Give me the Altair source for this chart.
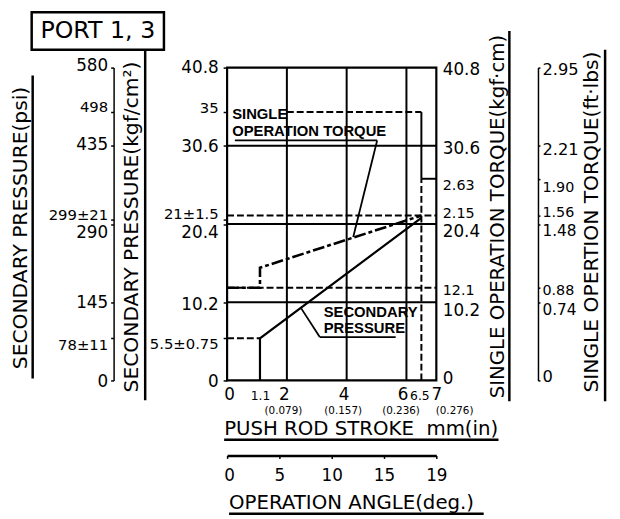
import json
import altair as alt
import pandas as pd

# ---------------- data ----------------
# secondary pressure scale positions (kgf/cm2) and labels
press_ticks = [40.8, 35, 30.6, 21, 20.4, 10.2, 5.5, 0]
press_kgf_labels = ["40.8", "35", "30.6", "21±1.5", "20.4", "10.2", "5.5±0.75", "0"]
press_psi_labels = ["580", "498", "435", "299±21", "290", "145", "78±11", "0"]
# single operation torque scale positions (kgf-cm) and labels
torque_ticks = [40.8, 30.6, 26.3, 21.5, 20.4, 12.1, 10.2, 0]
torque_kgf_labels = ["40.8", "30.6", "2.63", "2.15", "20.4", "12.1", "10.2", "0"]
torque_ftlb_labels = ["2.95", "2.21", "1.90", "1.56", "1.48", "0.88", "0.74", "0"]
# push rod stroke (mm) and inch equivalents
stroke_ticks = [0, 1.1, 2, 4, 6, 6.5, 7]
stroke_in_ticks = [2, 4, 6, 7]
stroke_in_labels = ["(0.079)", "(0.157)", "(0.236)", "(0.276)"]
# operation angle (deg) and the stroke (mm) under each angle tick
angle_labels = ["0", "5", "10", "15", "19"]
angle_at_mm = [0, 1.75, 3.5, 5.25, 7.0]

# series
pressure_x = [1.1, 1.1, 6.5]
pressure_y = [0, 5.5, 21.2]
torque_x = [0, 1.1, 1.1, 6.5]
torque_y = [12.1, 12.1, 14.7, 21.5]

# grid
grid_x = [2, 4, 6]
grid_y = [10.2, 20.4, 30.6]

# dashed reference segments
dash_x1 = [0, 0, 0, 2, 6.5]
dash_x2 = [1.1, 7, 7, 6.5, 6.5]
dash_y1 = [5.5, 12.1, 21.5, 35, 0]
dash_y2 = [5.5, 12.1, 21.5, 35, 26.3]
# solid reference segments
solid_x1 = [6.5, 6.5]
solid_x2 = [6.5, 7]
solid_y1 = [26.3, 26.3]
solid_y2 = [35, 26.3]

# annotations
note_text = ["SINGLE", "OPERATION TORQUE", "SECONDARY", "PRESSURE"]
note_x = [0.17, 0.17, 3.23, 3.23]
note_y = [34.7, 32.5, 8.9, 6.8]
lead_x1 = [0.26, 5.02, 3.1, 3.1]
lead_x2 = [5.02, 4.22, 5.64, 2.48]
lead_y1 = [31.3, 31.3, 5.66, 5.66]
lead_y2 = [31.3, 18.7, 5.66, 9.4]

# ---------------- chart ----------------
W, H = 212, 317
FONT = "DejaVu Sans"
NOTE_FONT = "Liberation Sans Narrow, Liberation Sans"

xs = alt.Scale(domain=[0, 7], nice=False, zero=False)
ys = alt.Scale(domain=[0, 40.8], nice=False, zero=False)


def lab_expr(vals, labels):
    return "%s[indexof(%s, datum.value)]" % (
        json.dumps(labels, ensure_ascii=False), json.dumps(vals))


def cond(mapping, default):
    conds = [{"test": "datum.value == %s" % json.dumps(v), "value": o}
             for v, o in mapping.items()]
    return {"condition": conds, "value": default}


def axis_layer(channel, vals, labels, orient, offset, sizes, offs, default_size=17,
               domain=False, tick=0, pad=4, baseline=None, dwidth=1.5):
    kw = dict(orient=orient, offset=offset, values=vals,
              labelExpr=lab_expr(vals, labels), labelFont=FONT,
              labelFontSize=cond(sizes, default_size) if sizes else default_size,
              labelOffset=cond(offs, 0) if offs else 0,
              labelColor="black", labelOverlap=False, labelFlush=False,
              domain=domain, domainColor="black", domainWidth=dwidth,
              ticks=tick > 0, tickSize=tick, tickColor="black", tickWidth=1.5,
              labelPadding=pad, grid=False, title=None)
    if baseline:
        kw["labelBaseline"] = baseline
    df = pd.DataFrame({"v": vals})
    base = alt.Chart(df).mark_point(opacity=0)
    if channel == "y":
        return base.encode(y=alt.Y("v:Q", scale=ys, axis=alt.Axis(**kw)))
    return base.encode(x=alt.X("v:Q", scale=xs, axis=alt.Axis(**kw)))


one = pd.DataFrame({"k": [0]})


def deco_rule(x, y, x2=None, y2=None, w=2.5):
    enc = dict(x=alt.value(x), y=alt.value(y))
    if x2 is not None:
        enc["x2"] = alt.value(x2)
    if y2 is not None:
        enc["y2"] = alt.value(y2)
    return alt.Chart(one).mark_rule(color="black", strokeWidth=w).encode(**enc)


def title_text(txt, x, y, size, angle=0, align="center", baseline="middle",
               font=FONT, weight="normal"):
    return alt.Chart(pd.DataFrame({"t": [txt]})).mark_text(
        font=font, fontSize=size, angle=angle, align=align, baseline=baseline,
        color="black", fontWeight=weight).encode(
        x=alt.value(x), y=alt.value(y), text="t:N")


X = lambda f: alt.X(f, scale=xs, axis=None)
Y = lambda f: alt.Y(f, scale=ys, axis=None)

layers = []

# grid lines
layers.append(alt.Chart(pd.DataFrame({"g": grid_x})).mark_rule(
    color="black", strokeWidth=2).encode(x=X("g:Q")))
layers.append(alt.Chart(pd.DataFrame({"g": grid_y})).mark_rule(
    color="black", strokeWidth=2).encode(y=Y("g:Q")))

# dashed references
dash_df = pd.DataFrame({"x": dash_x1, "x2": dash_x2, "y": dash_y1, "y2": dash_y2})
layers.append(alt.Chart(dash_df).mark_rule(
    color="black", strokeWidth=2, strokeDash=[7, 3]).encode(
    x=X("x:Q"), x2="x2:Q", y=Y("y:Q"), y2="y2:Q"))
solid_df = pd.DataFrame({"x": solid_x1, "x2": solid_x2, "y": solid_y1, "y2": solid_y2})
layers.append(alt.Chart(solid_df).mark_rule(
    color="black", strokeWidth=2).encode(
    x=X("x:Q"), x2="x2:Q", y=Y("y:Q"), y2="y2:Q"))

# series
p_df = pd.DataFrame({"x": pressure_x, "y": pressure_y, "i": range(len(pressure_x))})
layers.append(alt.Chart(p_df).mark_line(color="black", strokeWidth=2.2).encode(
    x=X("x:Q"), y=Y("y:Q"), order="i:Q"))
t_df = pd.DataFrame({"x": torque_x, "y": torque_y, "i": range(len(torque_x))})
layers.append(alt.Chart(t_df).mark_line(
    color="black", strokeWidth=2.6, strokeDash=[12, 3, 4, 3]).encode(
    x=X("x:Q"), y=Y("y:Q"), order="i:Q"))

# annotations
lead_df = pd.DataFrame({"x": lead_x1, "x2": lead_x2, "y": lead_y1, "y2": lead_y2})
layers.append(alt.Chart(lead_df).mark_rule(color="black", strokeWidth=1.8).encode(
    x=X("x:Q"), x2="x2:Q", y=Y("y:Q"), y2="y2:Q"))
note_df = pd.DataFrame({"t": note_text, "x": note_x, "y": note_y})
layers.append(alt.Chart(note_df).mark_text(
    font=NOTE_FONT, fontSize=15, fontWeight="bold", align="left",
    baseline="middle", color="black").encode(x=X("x:Q"), y=Y("y:Q"), text="t:N"))

# axes
layers.append(axis_layer(
    "y", press_ticks, press_kgf_labels, "left", 0,
    {35: 15, 21: 15, 5.5: 15}, {35: -5, 30.6: 1, 21: -6, 20.4: 9, 10.2: 2, 5.5: 5, 0: 1},
    tick=4, pad=5))
layers.append(axis_layer(
    "y", press_ticks, press_psi_labels, "left", 115,
    {35: 15, 21: 15, 5.5: 15}, {40.8: -2, 35: -6, 30.6: -1, 21: -5, 20.4: 9, 5.5: 6, 0: 1},
    domain=True, tick=3, pad=3))
layers.append(axis_layer(
    "y", torque_ticks, torque_kgf_labels, "right", 0,
    {26.3: 14.5, 21.5: 14.5, 12.1: 14.5},
    {40.8: 2, 30.6: 3, 26.3: 7, 21.5: -2, 20.4: 8, 12.1: 3, 10.2: 8, 0: -2},
    tick=0, pad=6))
layers.append(axis_layer(
    "y", torque_ticks, torque_ftlb_labels, "right", 103,
    {26.3: 14.5, 21.5: 14.5, 12.1: 14.5, 20.4: 15.5, 10.2: 15.5},
    {40.8: 2, 30.6: 4, 26.3: 9, 21.5: -3, 20.4: 7, 12.1: 3, 10.2: 7, 0: -4},
    default_size=16.5, domain=True, tick=2, pad=2))
layers.append(axis_layer(
    "x", stroke_ticks, [str(v) for v in stroke_ticks], "bottom", 0,
    {1.1: 12.5, 6.5: 12.5}, {0: 2, 2: -3, 4: -3, 6: -4, 6.5: -2},
    tick=0, pad=19, baseline="alphabetic"))
layers.append(axis_layer(
    "x", stroke_in_ticks, stroke_in_labels, "bottom", 0,
    None, {2: -4, 4: -4, 6: -6, 7: 18}, default_size=10.5,
    tick=0, pad=34, baseline="alphabetic"))
layers.append(axis_layer(
    "x", angle_at_mm, angle_labels, "bottom", 76,
    None, {0: 2}, default_size=17, domain=True, tick=3, pad=22,
    baseline="alphabetic", dwidth=2.5))

# titles and their underlines
layers.append(title_text("SECONDARY PRESSURE(psi)", -208.5, 162.5, 20.5, angle=270))
layers.append(title_text("SECONDARY PRESSURE(kgf/cm²)", -96, 161.5, 20.5, angle=270))
layers.append(title_text("SINGLE OPERATION TORQUE(kgf·cm)", 275, 151, 20, angle=270))
layers.append(title_text("SINGLE OPERTION TORQUE(ft·lbs)", 370, 156.5, 20.5, angle=270))
layers.append(title_text("PUSH ROD STROKE\u00a0 mm(in)", -3, 372, 20, align="left",
                         baseline="alphabetic"))
layers.append(title_text("OPERATION ANGLE(deg.)", 2, 447, 20, align="left",
                         baseline="alphabetic"))
layers.append(deco_rule(-197, 8, y2=315))
layers.append(deco_rule(-83, -18, y2=337))
layers.append(deco_rule(286, -37, y2=338))
layers.append(deco_rule(383, -18, y2=338))
layers.append(deco_rule(-3, 377, x2=275))
layers.append(deco_rule(2, 452, x2=260))

# PORT box
layers.append(alt.Chart(one).mark_rect(fill="white", stroke="black", strokeWidth=2.5).encode(
    x=alt.value(-198), x2=alt.value(-64), y=alt.value(-56), y2=alt.value(-18)))
layers.append(title_text("PORT 1, 3", -131, -37, 24))

chart = alt.layer(*layers).resolve_axis(x="independent", y="independent").properties(
    width=W, height=H,
    padding={"left": 222, "top": 57, "right": 178, "bottom": 136},
    autosize=alt.AutoSizeParams(type="none"),
).configure_view(stroke="black", strokeWidth=2.2)

chart.save("out.html", embed_options={"renderer": "svg", "actions": False})
